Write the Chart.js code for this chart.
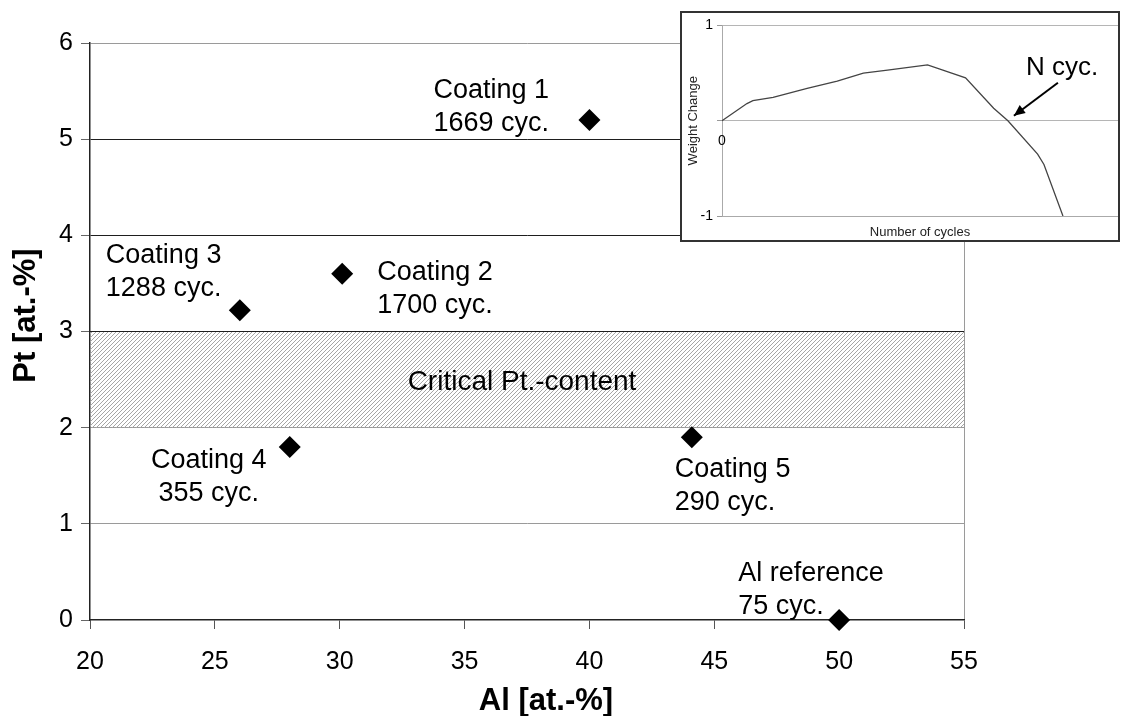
<!DOCTYPE html>
<html>
<head>
<meta charset="utf-8">
<script src="https://cdn.jsdelivr.net/npm/chart.js@4.4.1/dist/chart.umd.min.js"></script>
<style>
  html, body { margin: 0; padding: 0; background: #fff; }
  #wrap { position: relative; width: 1130px; height: 716px; overflow: hidden; }
  #main { position: absolute; left: 0; top: 0; }
  #inset { position: absolute; left: 680px; top: 11px; width: 440px; height: 231px;
           border: 2px solid #333; box-sizing: border-box; background: #fff; }
  #ins { display: block; }
</style>
</head>
<body>
<div id="wrap">
  <canvas id="main" width="1130" height="716"></canvas>
  <div id="inset"><canvas id="ins" width="436" height="227"></canvas></div>
</div>
<script>
// Coating compositions and their cyclic-oxidation lifetimes
const coatingNames = ['Coating 1', 'Coating 2', 'Coating 3', 'Coating 4', 'Coating 5', 'Al reference'];
const cyclesToFailure = [1669, 1700, 1288, 355, 290, 75];
const alContent = [40, 30.1, 26, 28, 44.1, 50];
const ptContent = [5.2, 3.6, 3.22, 1.8, 1.9, 0];

// Critical Pt band (lower, upper)
const criticalPt = [2, 3];
const criticalLabel = 'Critical Pt.-content';

const alTicks = [20, 25, 30, 35, 40, 45, 50, 55];
const ptTicks = [0, 1, 2, 3, 4, 5, 6];
const xTitle = 'Al [at.-%]';
const yTitle = 'Pt [at.-%]';

// Schematic weight-change curve for the inset
const insetCycles = [0, 6.3, 7.8, 12.9, 21.5, 29.1, 35.7, 41.8, 51.9, 61.5, 68.6, 72.2, 79.7, 81.3, 86.1];
const insetWeight = [0, 0.18, 0.21, 0.245, 0.34, 0.415, 0.5, 0.53, 0.585, 0.45, 0.13, 0, -0.35, -0.46, -1];
const insetTicks = [-1, 0, 1];

// ---- styling ----
const FONT = 'Arial, "Liberation Sans", sans-serif';
// label placement relative to each marker (pixels): first-line baseline offset and alignment
const labelLayout = [
  { dx: -156, dy: -22, align: 'left' },
  { dx: 35, dy: 6, align: 'left' },
  { dx: -134, dy: -47, align: 'left' },
  { dx: -81, dy: 21, align: 'center' },
  { dx: -17, dy: 40, align: 'left' },
  { dx: -101, dy: -39, align: 'left' }
];
const LINE_GAP = 33;

function gridShade(v) {
  if (v === 0) return 'rgba(0,0,0,0)';
  if (v >= 3 && v <= 5) return '#1e1e1e';
  return '#9a9a9a';
}

function hatchPattern() {
  const c = document.createElement('canvas');
  c.width = 4; c.height = 4;
  const g = c.getContext('2d');
  g.strokeStyle = '#a6a6a6';
  g.lineWidth = 1;
  g.beginPath();
  g.moveTo(0, 4); g.lineTo(4, 0);
  g.moveTo(-1, 1); g.lineTo(1, -1);
  g.moveTo(3, 5); g.lineTo(5, 3);
  g.stroke();
  return g.createPattern(c, 'repeat');
}

const annotate = {
  id: 'annotate',
  afterDatasetsDraw(chart) {
    const { ctx, scales: { x, y } } = chart;
    ctx.save();
    ctx.fillStyle = '#000';
    ctx.textBaseline = 'alphabetic';
    ctx.font = '27px ' + FONT;
    coatingNames.forEach((name, i) => {
      const px = x.getPixelForValue(alContent[i]);
      const py = y.getPixelForValue(ptContent[i]);
      const L = labelLayout[i];
      ctx.textAlign = L.align;
      ctx.fillText(name, px + L.dx, py + L.dy);
      ctx.fillText(cyclesToFailure[i] + ' cyc.', px + L.dx, py + L.dy + LINE_GAP);
    });
    ctx.textAlign = 'center';
    ctx.font = '28px ' + FONT;
    const mid = (criticalPt[0] + criticalPt[1]) / 2;
    ctx.fillText(criticalLabel, (x.left + x.right) / 2 - 5, y.getPixelForValue(mid) + 10);

    // axis titles
    ctx.font = 'bold 31px ' + FONT;
    ctx.fillText(xTitle, (x.left + x.right) / 2 + 19, x.bottom - 6);
    ctx.translate(y.left + 35, (y.top + y.bottom) / 2 - 16);
    ctx.rotate(-Math.PI / 2);
    ctx.fillText(yTitle, 0, 0);
    ctx.restore();
  }
};

new Chart(document.getElementById('main'), {
  type: 'scatter',
  data: {
    datasets: [
      {
        label: 'Coatings',
        data: alContent.map((a, i) => ({ x: a, y: ptContent[i] })),
        pointStyle: 'rectRot',
        pointRadius: 11,
        pointHoverRadius: 11,
        backgroundColor: '#000',
        borderColor: '#000',
        borderWidth: 0,
        clip: false,
        order: 0
      },
      {
        type: 'line',
        label: criticalLabel,
        data: [{ x: alTicks[0], y: criticalPt[1] }, { x: alTicks[alTicks.length - 1], y: criticalPt[1] }],
        fill: { value: criticalPt[0] },
        backgroundColor: hatchPattern(),
        borderColor: '#1e1e1e',
        borderWidth: 1,
        pointRadius: 0,
        order: 1
      }
    ]
  },
  options: {
    responsive: false,
    animation: false,
    events: [],
    layout: { padding: { left: 0, top: 43, right: 166, bottom: 0 } },
    plugins: { legend: { display: false }, tooltip: { enabled: false } },
    scales: {
      x: {
        type: 'linear', min: alTicks[0], max: alTicks[alTicks.length - 1],
        afterBuildTicks: s => { s.ticks = alTicks.map(v => ({ value: v })); },
        ticks: { font: { family: FONT, size: 25 }, color: '#000', padding: 18, maxRotation: 0 },
        grid: {
          color: c => (c.tick && c.tick.value === alTicks[alTicks.length - 1]) ? '#9a9a9a' : 'rgba(0,0,0,0)',
          tickColor: '#555', tickLength: 9
        },
        border: { color: '#222', width: 1.5 },
        title: { display: false },
        afterFit: s => { s.height = 96; }
      },
      y: {
        type: 'linear', min: ptTicks[0], max: ptTicks[ptTicks.length - 1],
        afterBuildTicks: s => { s.ticks = ptTicks.map(v => ({ value: v })); },
        ticks: { font: { family: FONT, size: 25 }, color: '#000', padding: 8 },
        grid: { color: c => gridShade(c.tick ? c.tick.value : -1), tickColor: '#666', tickLength: 9 },
        border: { color: '#222', width: 1.5 },
        title: { display: false },
        afterFit: s => { s.width = 90; }
      }
    }
  },
  plugins: [annotate]
});

// ---- inset: weight change vs. number of cycles ----
const insetNotes = {
  id: 'insetNotes',
  afterDatasetsDraw(chart) {
    const { ctx, scales: { x, y } } = chart;
    ctx.save();
    ctx.fillStyle = '#000';
    ctx.font = '14px ' + FONT;
    ctx.textAlign = 'center';
    ctx.textBaseline = 'middle';
    ctx.fillText('0', x.left, y.getPixelForValue(0) + 20);

    // where the curve drops back through zero
    let cx = insetCycles[0];
    for (let i = 1; i < insetWeight.length; i++) {
      if (insetWeight[i - 1] > 0 && insetWeight[i] <= 0) {
        const t = insetWeight[i - 1] / (insetWeight[i - 1] - insetWeight[i]);
        cx = insetCycles[i - 1] + t * (insetCycles[i] - insetCycles[i - 1]);
      }
    }
    const tipX = x.getPixelForValue(cx) + 6;
    const tipY = y.getPixelForValue(0) - 5;
    const tailX = tipX + 44, tailY = tipY - 33;
    ctx.strokeStyle = '#000';
    ctx.lineWidth = 2;
    ctx.beginPath();
    ctx.moveTo(tailX, tailY);
    ctx.lineTo(tipX, tipY);
    ctx.stroke();
    const ang = Math.atan2(tipY - tailY, tipX - tailX);
    const hl = 11, hw = 5;
    ctx.beginPath();
    ctx.moveTo(tipX, tipY);
    ctx.lineTo(tipX - hl * Math.cos(ang) + hw * Math.sin(ang), tipY - hl * Math.sin(ang) - hw * Math.cos(ang));
    ctx.lineTo(tipX - hl * Math.cos(ang) - hw * Math.sin(ang), tipY - hl * Math.sin(ang) + hw * Math.cos(ang));
    ctx.closePath();
    ctx.fill();

    ctx.font = '26px ' + FONT;
    ctx.textAlign = 'left';
    ctx.textBaseline = 'alphabetic';
    ctx.fillText('N cyc.', tipX + 12, tipY - 41);
    ctx.restore();
  }
};

new Chart(document.getElementById('ins'), {
  type: 'line',
  data: {
    datasets: [{
      label: 'Weight Change',
      data: insetCycles.map((c, i) => ({ x: c, y: insetWeight[i] })),
      borderColor: '#444',
      borderWidth: 1.3,
      pointRadius: 0,
      tension: 0,
      fill: false
    }]
  },
  options: {
    responsive: false,
    animation: false,
    events: [],
    layout: { padding: { left: 0, top: 12, right: 0, bottom: 0 } },
    plugins: { legend: { display: false }, tooltip: { enabled: false } },
    scales: {
      x: {
        type: 'linear', min: 0, max: 100,
        ticks: { display: false },
        grid: { display: false, drawTicks: false },
        border: { color: '#aaa', width: 1 },
        title: { display: true, text: 'Number of cycles', color: '#222',
                 font: { family: FONT, size: 13 }, padding: { top: 0, bottom: 0 } },
        afterFit: s => { s.height = 24; }
      },
      y: {
        type: 'linear', min: insetTicks[0], max: insetTicks[insetTicks.length - 1],
        afterBuildTicks: s => { s.ticks = insetTicks.map(v => ({ value: v })); },
        ticks: { font: { family: FONT, size: 14 }, color: '#000', padding: 4,
                 callback: v => (v === 0 ? '' : String(v)) },
        grid: { color: c => (c.tick && c.tick.value === insetTicks[0]) ? 'rgba(0,0,0,0)' : '#b5b5b5',
                tickColor: '#999', tickLength: 5 },
        border: { color: '#aaa', width: 1 },
        title: { display: true, text: 'Weight Change', color: '#222',
                 font: { family: FONT, size: 13 }, padding: { top: 4, bottom: 0 } },
        afterFit: s => { s.width = 40; }
      }
    }
  },
  plugins: [insetNotes]
});
</script>
</body>
</html>
